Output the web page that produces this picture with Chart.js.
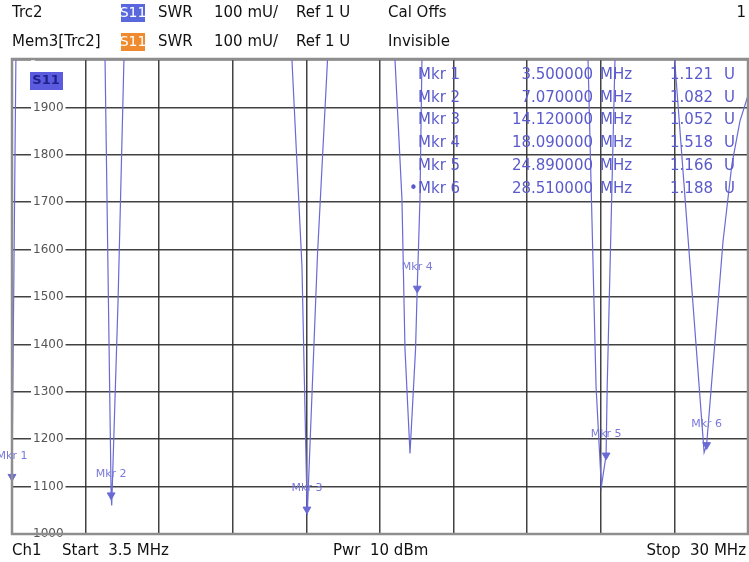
<!DOCTYPE html>
<html>
<head>
<meta charset="utf-8">
<style>
html, body { margin: 0; padding: 0; background: #fff; }
#wrap { width: 749px; height: 562px; }
</style>
<script src="https://cdn.jsdelivr.net/npm/chart.js@4.4.0/dist/chart.umd.min.js"></script>
</head>
<body>
<div id="wrap"><canvas id="vna" width="749" height="562"></canvas></div>
<script>
// ---------------- TRACE (Trc2, S11 SWR, values in mU) ----------------
const freqMHz = [3.50, 3.64, 5.00, 6.85, 7.07, 7.09, 7.32, 7.53, 9.50,
  13.58, 13.94, 14.13, 14.50, 14.86, 16.00,
  17.29, 17.54, 17.65, 17.83, 18.03, 18.09, 18.19, 18.26, 20.50,
  24.24, 24.53, 24.72, 24.89, 24.93, 25.21, 26.20,
  27.36, 28.42, 28.51, 29.10, 29.42, 29.71, 30.00];
const swrMU = [1121, 2000, 2600, 2000, 1082, 1060, 1495, 2000, 2600,
  2000, 1565, 1040, 1590, 2000, 2600,
  2000, 1707, 1390, 1170, 1390, 1518, 1707, 2000, 2600,
  2000, 1310, 1100, 1166, 1310, 2000, 2600,
  2000, 1172, 1188, 1617, 1780, 1871, 1925];

// ---------------- MARKERS ----------------
const mkrNames = ["Mkr 1", "Mkr 2", "Mkr 3", "Mkr 4", "Mkr 5", "Mkr 6"];
const mkrFreq = [3.50, 7.07, 14.12, 18.09, 24.89, 28.51];
const mkrSwr = [1121, 1082, 1052, 1518, 1166, 1188];

// ---------------- GRID ----------------
const xGrid = [3.5, 6.15, 8.8, 11.45, 14.1, 16.75, 19.4, 22.05, 24.7, 27.35, 30];
const yTicks = [1000, 1100, 1200, 1300, 1400, 1500, 1600, 1700, 1800, 1900, 2000];

const traceColor = "#6a6ad6";
const textBlue = "#5a5acc";
const gridColor = "rgba(45,45,45,0.9)";

// ---------------- TEXT OVERLAY ----------------
const vnaText = {
  id: "vnaText",
  afterDraw(chart) {
    const { ctx, chartArea: a, scales: { x, y } } = chart;
    ctx.save();

    // plot frame
    ctx.strokeStyle = "#8e8e8e";
    ctx.lineWidth = 2.5;
    ctx.strokeRect(a.left, a.top - 1, a.right - a.left, a.bottom - a.top + 1);

    const text = (s, px, py, opts = {}) => {
      ctx.font = opts.font || "15px 'DejaVu Sans'";
      ctx.fillStyle = opts.color || "#111";
      ctx.textAlign = opts.align || "left";
      ctx.textBaseline = "middle";
      ctx.fillText(s, px, py);
    };
    const tag = (bg, px, py) => {
      ctx.fillStyle = bg;
      ctx.fillRect(px, py - 9, 24, 18);
      text("S11", px + 12, py, { color: "#fff", align: "center", font: "14px 'DejaVu Sans'" });
    };

    // header
    text("Trc2", 12, 13);
    tag("#5a68de", 121, 13);
    text("SWR", 158, 13);
    text("100 mU/", 214, 13);
    text("Ref 1 U", 296, 13);
    text("Cal Offs", 388, 13);
    text("1", 746, 13, { align: "right" });
    text("Mem3[Trc2]", 12, 42);
    tag("#ef8a2e", 121, 42);
    text("SWR", 158, 42);
    text("100 mU/", 214, 42);
    text("Ref 1 U", 296, 42);
    text("Invisible", 388, 42);

    // footer
    text("Ch1", 12, 551);
    text("Start  3.5 MHz", 62, 551);
    text("Pwr  10 dBm", 333, 551);
    text("Stop  30 MHz", 746, 551, { align: "right" });

    // trace tag inside plot
    ctx.fillStyle = "#5b5be0";
    ctx.fillRect(30, 72, 33, 18);
    text("S11", 46, 81, { color: "#20208a", align: "center", font: "bold 13px 'DejaVu Sans'" });

    // marker table
    const tf = "15px 'DejaVu Sans'";
    mkrNames.forEach((m, i) => {
      const ry = 75 + i * 22.8;
      if (i === mkrNames.length - 1) text("\u2022", 409, ry, { color: textBlue, font: tf });
      text(m, 418, ry, { color: textBlue, font: tf });
      text(mkrFreq[i].toFixed(6), 593, ry, { color: textBlue, font: tf, align: "right" });
      text("MHz", 600, ry, { color: textBlue, font: tf });
      text((mkrSwr[i] / 1000).toFixed(3), 713, ry, { color: textBlue, font: tf, align: "right" });
      text("U", 724, ry, { color: textBlue, font: tf });
    });

    // marker labels above the marker symbols
    mkrNames.forEach((m, i) => {
      const px = x.getPixelForValue(mkrFreq[i]);
      const py = y.getPixelForValue(mkrSwr[i]);
      text(m, px, py - 21, { color: "#7a7ad8", align: "center", font: "11px 'DejaVu Sans'" });
    });

    ctx.restore();
  }
};

// ---------------- CHART ----------------
new Chart(document.getElementById("vna").getContext("2d"), {
  type: "scatter",
  data: {
    datasets: [{
      data: freqMHz.map((f, i) => ({ x: f, y: swrMU[i] })),
      showLine: true,
      borderColor: traceColor,
      borderWidth: 1.2,
      pointRadius: 0,
      tension: 0
    }, {
      data: mkrFreq.map((f, i) => ({ x: f, y: mkrSwr[i] })),
      showLine: false,
      clip: false,
      pointStyle: "triangle",
      rotation: 180,
      pointRadius: 4.5,
      backgroundColor: traceColor,
      borderColor: traceColor
    }]
  },
  options: {
    responsive: false,
    animation: false,
    layout: { autoPadding: false, padding: { left: 12, right: 1, top: 60, bottom: 28 } },
    plugins: { legend: { display: false }, tooltip: { enabled: false } },
    scales: {
      x: {
        type: "linear",
        min: 3.5,
        max: 30,
        afterBuildTicks: s => { s.ticks = xGrid.map(v => ({ value: v })); },
        ticks: { display: false },
        grid: { color: gridColor, lineWidth: 1.5, drawTicks: false },
        border: { display: false }
      },
      y: {
        min: 1000,
        max: 2000,
        afterBuildTicks: s => { s.ticks = yTicks.map(v => ({ value: v })); },
        afterFit: s => { s.width = 0; s.paddingTop = 0; s.paddingBottom = 0; },
        ticks: {
          mirror: true,
          padding: 21,
          color: "#555",
          font: { family: "DejaVu Sans", size: 12 },
          showLabelBackdrop: true,
          backdropColor: "#fff",
          backdropPadding: { x: 2, y: 0 },
          callback: v => (v === 2000 ? "" : v)
        },
        grid: { color: gridColor, lineWidth: 1.5, drawTicks: false },
        border: { display: false }
      }
    }
  },
  plugins: [vnaText]
});
</script>
</body>
</html>
